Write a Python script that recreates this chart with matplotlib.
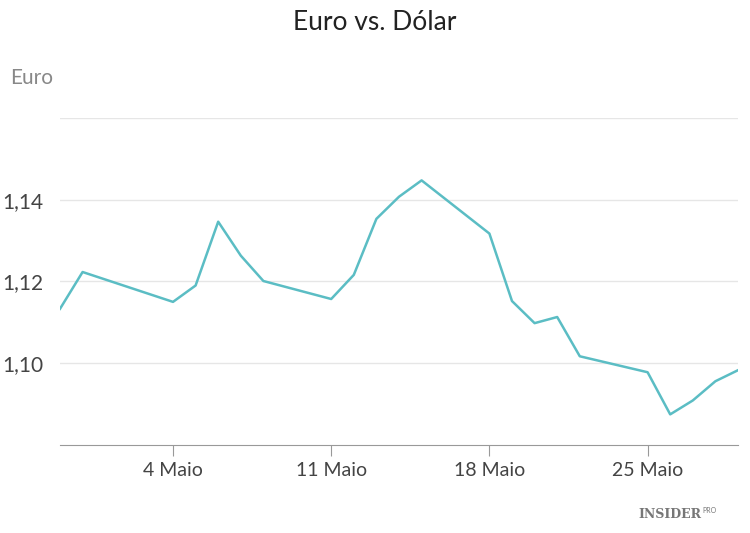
import matplotlib.pyplot as plt
import numpy as np

# days since 29 April
days = [0, 1, 5, 6, 7, 8, 9, 12, 13, 14, 15, 16, 19, 20, 21, 22, 23, 26, 27, 28, 29, 30]
rate = [1.1133, 1.1223, 1.1150, 1.1190, 1.1346, 1.1263, 1.1201, 1.1157, 1.1216, 1.1353,
        1.1407, 1.1447, 1.1317, 1.1152, 1.1098, 1.1113, 1.1017, 1.0978, 1.0875, 1.0909,
        1.0956, 1.0983]
tick_days = [5, 12, 19, 26]
tick_labels = ["4 Maio", "11 Maio", "18 Maio", "25 Maio"]
y_ticks = [1.10, 1.12, 1.14, 1.16]
y_labels = ["1,10", "1,12", "1,14", ""]

plt.rcParams['font.family'] = ['Lato', 'DejaVu Sans']
fig = plt.figure(figsize=(7.5, 5.33), dpi=100)
ax = fig.add_axes([0.08, 0.165, 0.904, 0.614])
ax.plot(days, rate, color='#5bbdc4', lw=1.8)
ax.set_xlim(0, 30)
ax.set_ylim(1.08, 1.16)
ax.set_yticks(y_ticks)
ax.set_yticklabels(y_labels, fontsize=15, color='#444444')
ax.set_xticks(tick_days)
ax.set_xticklabels(tick_labels, fontsize=14, color='#444444')
ax.tick_params(axis='y', length=0, pad=12)
ax.tick_params(axis='x', length=8, color='#999999', pad=4)
ax.grid(axis='y', color='#e6e6e6', lw=1)
for s in ['top', 'right', 'left']:
    ax.spines[s].set_visible(False)
ax.spines['bottom'].set_color('#999999')

fig.text(0.5, 0.958, "Euro vs. Dólar", ha='center', va='center', fontsize=19, color='#222222')
fig.text(0.013, 0.854, "Euro", ha='left', va='center', fontsize=15, color='#888888')
fig.text(0.935, 0.035, "INSIDER", ha='right', va='center', fontsize=9, color='#777777',
         family='DejaVu Serif', weight='bold')
fig.text(0.936, 0.042, "PRO", ha='left', va='center', fontsize=5, color='#777777')

fig.savefig("out.png", dpi=100)
